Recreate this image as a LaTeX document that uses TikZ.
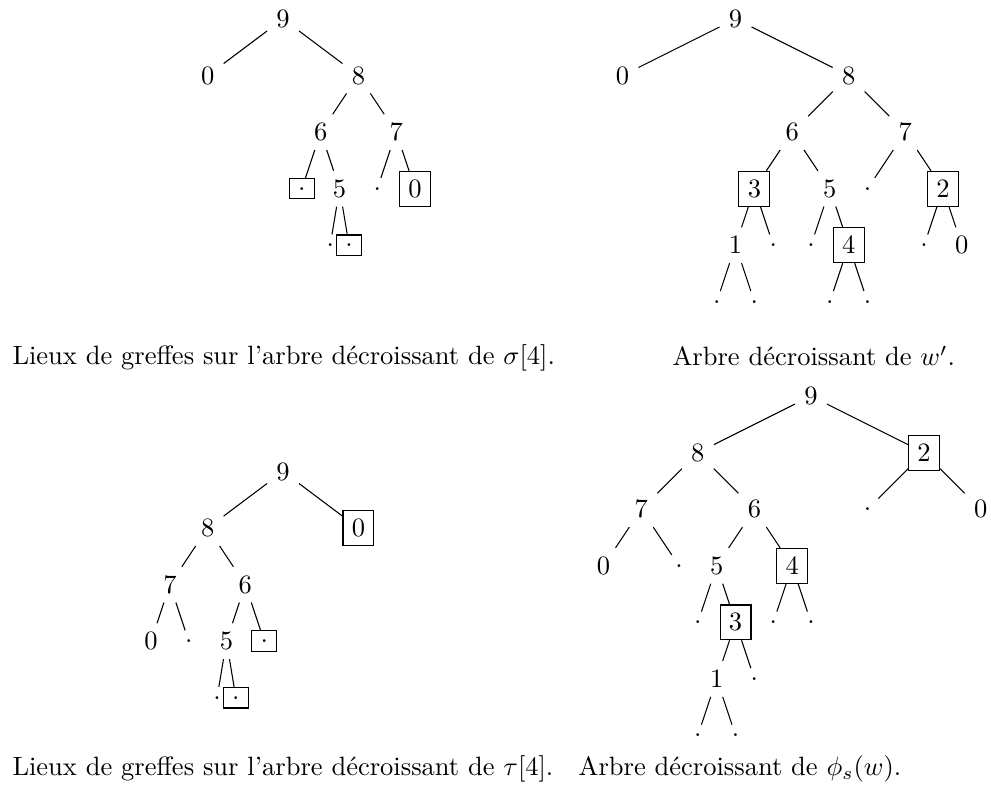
\documentclass[tikz,border=0pt]{standalone}
\usetikzlibrary{positioning}

\begin{document}
\begin{tikzpicture}[
    greffe/.style={rectangle, draw},
    legende/.style={anchor=base west, inner sep=0pt},
    tree/.style={x=0.25cm, y=0.75cm},
]
\useasboundingbox (-3.753,0.252) rectangle (9.387,-10.208);

% Arbre de sigma[4]
\begin{scope}[tree]
\node (sg9) at (0,0) {$9$};
\node (sg0) at (-4,-1) {$0$};
\node (sg8) at (4,-1) {$8$};
\node (sg6) at (2,-2) {$6$};
\node (sg7) at (6,-2) {$7$};
\node[greffe] (sgg1) at (1,-3) {.};
\node (sg5) at (3,-3) {$5$};
\node (sgp1) at (5,-3) {.};
\node[greffe] (sgg2) at (7,-3) {$0$};
\node (sgp2) at (2.5,-4) {.};
\node[greffe] (sgg3) at (3.5,-4) {.};
\foreach \a/\b in {sg9/sg0, sg9/sg8, sg8/sg6, sg8/sg7, sg6/sgg1, sg6/sg5,
                   sg7/sgp1, sg7/sgg2, sg5/sgp2, sg5/sgg3}
    \draw (\a) -- (\b);
\end{scope}

% Arbre de w'
\begin{scope}[tree, shift={(6cm,0cm)}]
\node (wp9) at (0,0) {$9$};
\node (wp0) at (-6,-1) {$0$};
\node (wp8) at (6,-1) {$8$};
\node (wp6) at (3,-2) {$6$};
\node (wp7) at (9,-2) {$7$};
\node[greffe] (wpg3) at (1,-3) {$3$};
\node (wp5) at (5,-3) {$5$};
\node (wpp1) at (7,-3) {.};
\node[greffe] (wpg2) at (11,-3) {$2$};
\node (wp1) at (0,-4) {$1$};
\node (wpp2) at (2,-4) {.};
\node (wpp3) at (4,-4) {.};
\node[greffe] (wpg4) at (6,-4) {$4$};
\node (wpp4) at (10,-4) {.};
\node (wpz) at (12,-4) {$0$};
\node (wpp5) at (-1,-5) {.};
\node (wpp6) at (1,-5) {.};
\node (wpp7) at (5,-5) {.};
\node (wpp8) at (7,-5) {.};
\foreach \a/\b in {wp9/wp0, wp9/wp8, wp8/wp6, wp8/wp7, wp6/wpg3, wp6/wp5,
                   wp7/wpp1, wp7/wpg2, wpg3/wp1, wpg3/wpp2, wp5/wpp3, wp5/wpg4,
                   wpg2/wpp4, wpg2/wpz, wp1/wpp5, wp1/wpp6, wpg4/wpp7, wpg4/wpp8}
    \draw (\a) -- (\b);
\end{scope}

% Arbre de tau[4]
\begin{scope}[tree, shift={(0cm,-6cm)}]
\node (ta9) at (0,0) {$9$};
\node (ta8) at (-4,-1) {$8$};
\node[greffe] (tag0) at (4,-1) {$0$};
\node (ta7) at (-6,-2) {$7$};
\node (ta6) at (-2,-2) {$6$};
\node (ta0) at (-7,-3) {$0$};
\node (tap1) at (-5,-3) {.};
\node (ta5) at (-3,-3) {$5$};
\node[greffe] (tag1) at (-1,-3) {.};
\node (tap2) at (-3.5,-4) {.};
\node[greffe] (tag2) at (-2.5,-4) {.};
\foreach \a/\b in {ta9/ta8, ta9/tag0, ta8/ta7, ta8/ta6, ta7/ta0, ta7/tap1,
                   ta6/ta5, ta6/tag1, ta5/tap2, ta5/tag2}
    \draw (\a) -- (\b);
\end{scope}

% Arbre de phi_s(w)
\begin{scope}[tree, shift={(7cm,-5cm)}]
\node (ph9) at (0,0) {$9$};
\node (ph8) at (-6,-1) {$8$};
\node[greffe] (phg2) at (6,-1) {$2$};
\node (ph7) at (-9,-2) {$7$};
\node (ph6) at (-3,-2) {$6$};
\node (php1) at (3,-2) {.};
\node (phz) at (9,-2) {$0$};
\node (ph0) at (-11,-3) {$0$};
\node (php2) at (-7,-3) {.};
\node (ph5) at (-5,-3) {$5$};
\node[greffe] (phg4) at (-1,-3) {$4$};
\node (php3) at (-6,-4) {.};
\node[greffe] (phg3) at (-4,-4) {$3$};
\node (php4) at (-2,-4) {.};
\node (php5) at (0,-4) {.};
\node (ph1) at (-5,-5) {$1$};
\node (php6) at (-3,-5) {.};
\node (php7) at (-6,-6) {.};
\node (php8) at (-4,-6) {.};
\foreach \a/\b in {ph9/ph8, ph9/phg2, phg2/php1, phg2/phz, ph8/ph7, ph8/ph6,
                   ph7/ph0, ph7/php2, ph6/ph5, ph6/phg4, ph5/php3, ph5/phg3,
                   phg4/php4, phg4/php5, phg3/ph1, phg3/php6, ph1/php7, ph1/php8}
    \draw (\a) -- (\b);
\end{scope}

% Legendes
\node[legende] (sgcap) at (-3.594,-4.575) {Lieux de greffes sur l'arbre décroissant de $\sigma[4]$.};
\node[legende] (wpcap) at (5.158,-4.60) {Arbre décroissant de $w'$.};
\node[legende] (tacap) at (-3.594,-10.025) {Lieux de greffes sur l'arbre décroissant de $\tau[4]$.};
\node[legende] (phcap) at (3.912,-10.025) {Arbre décroissant de $\phi_s(w)$.};

\end{tikzpicture}
\end{document}
